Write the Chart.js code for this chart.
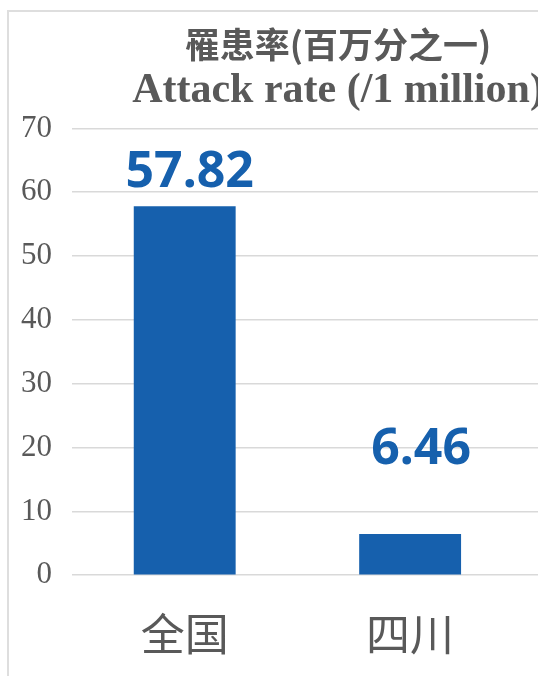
<!DOCTYPE html>
<html lang="zh-CN">
<head>
<meta charset="utf-8">
<title>罹患率</title>
<script src="https://cdn.jsdelivr.net/npm/chart.js@4.4.1/dist/chart.umd.min.js"></script>
<style>
  html, body { margin: 0; padding: 0; background: #fff; }
  #page {
    position: relative;
    width: 538px;
    height: 676px;
    overflow: hidden;
  }
  #frame {
    position: absolute;
    left: 7px;
    top: 10px;
    border-left: 2px solid #dedede;
    border-top: 2px solid #dedede;
  }
  #attack-rate { display: block; }
</style>
</head>
<body>
<div id="page">
  <div id="frame">
    <canvas id="attack-rate" width="660" height="700"></canvas>
  </div>
</div>
<script>
const regions = ["全国", "四川"];
const attackRates = [57.82, 6.46];
const yTicks = [0, 10, 20, 30, 40, 50, 60, 70];

const barColor = "#1660ad";
const textColor = "#595959";

// value labels sit above the bars; each one has its own nudge (dx, gap above bar top)
const labelNudge = [[5, 19], [11, 70]];

const valueLabels = {
  id: "valueLabels",
  afterDatasetsDraw(chart) {
    const { ctx } = chart;
    const bars = chart.getDatasetMeta(0).data;
    ctx.save();
    ctx.font = "bold 50px 'Noto Sans'";
    ctx.fillStyle = barColor;
    ctx.textAlign = "center";
    ctx.textBaseline = "alphabetic";
    bars.forEach((bar, i) => {
      const [dx, gap] = labelNudge[i];
      ctx.fillText(attackRates[i].toFixed(2), bar.x + dx, bar.y - gap);
    });
    ctx.restore();
  },
};

const canvas = document.getElementById("attack-rate");

new Chart(canvas, {
  type: "bar",
  data: {
    datasets: [
      {
        data: attackRates.map((rate, i) => ({ x: i, y: rate })),
        backgroundColor: barColor,
        barPercentage: 0.452,
        categoryPercentage: 1,
      },
    ],
  },
  options: {
    responsive: false,
    animation: false,
    layout: {
      padding: { left: 12, right: 14, top: 0, bottom: 18 },
    },
    plugins: {
      legend: { display: false },
      tooltip: { enabled: false },
      title: {
        display: true,
        text: "罹患率(百万分之一)",
        color: textColor,
        font: { family: "'Noto Sans CJK SC'", size: 35, weight: "bold" },
        padding: { top: 12, bottom: 0 },
      },
      subtitle: {
        display: true,
        text: "Attack rate (/1 million)",
        color: textColor,
        font: { family: "'Liberation Serif'", size: 42, weight: "bold" },
        padding: { top: 0, bottom: 12 },
      },
    },
    scales: {
      // numeric index axis so the plot can run on past the second bar
      x: {
        type: "linear",
        offset: false,
        min: -0.5,
        max: 2.085,
        grid: { display: false, drawTicks: false },
        border: { display: false },
        ticks: {
          stepSize: 1,
          includeBounds: false,
          autoSkip: false,
          maxRotation: 0,
          padding: 33,
          color: textColor,
          font: { family: "'Noto Sans CJK SC'", size: 44 },
          callback: (value) => regions[value] ?? "",
        },
      },
      y: {
        min: yTicks[0],
        max: yTicks[yTicks.length - 1],
        grid: { color: "#d9d9d9", lineWidth: 1.5, drawTicks: false },
        border: { display: false },
        ticks: {
          stepSize: yTicks[1] - yTicks[0],
          padding: 20,
          color: textColor,
          font: { family: "'Liberation Serif'", size: 31 },
        },
        afterFit: (scale) => {
          scale.width = 51;
        },
      },
    },
  },
  plugins: [valueLabels],
});
</script>
</body>
</html>
